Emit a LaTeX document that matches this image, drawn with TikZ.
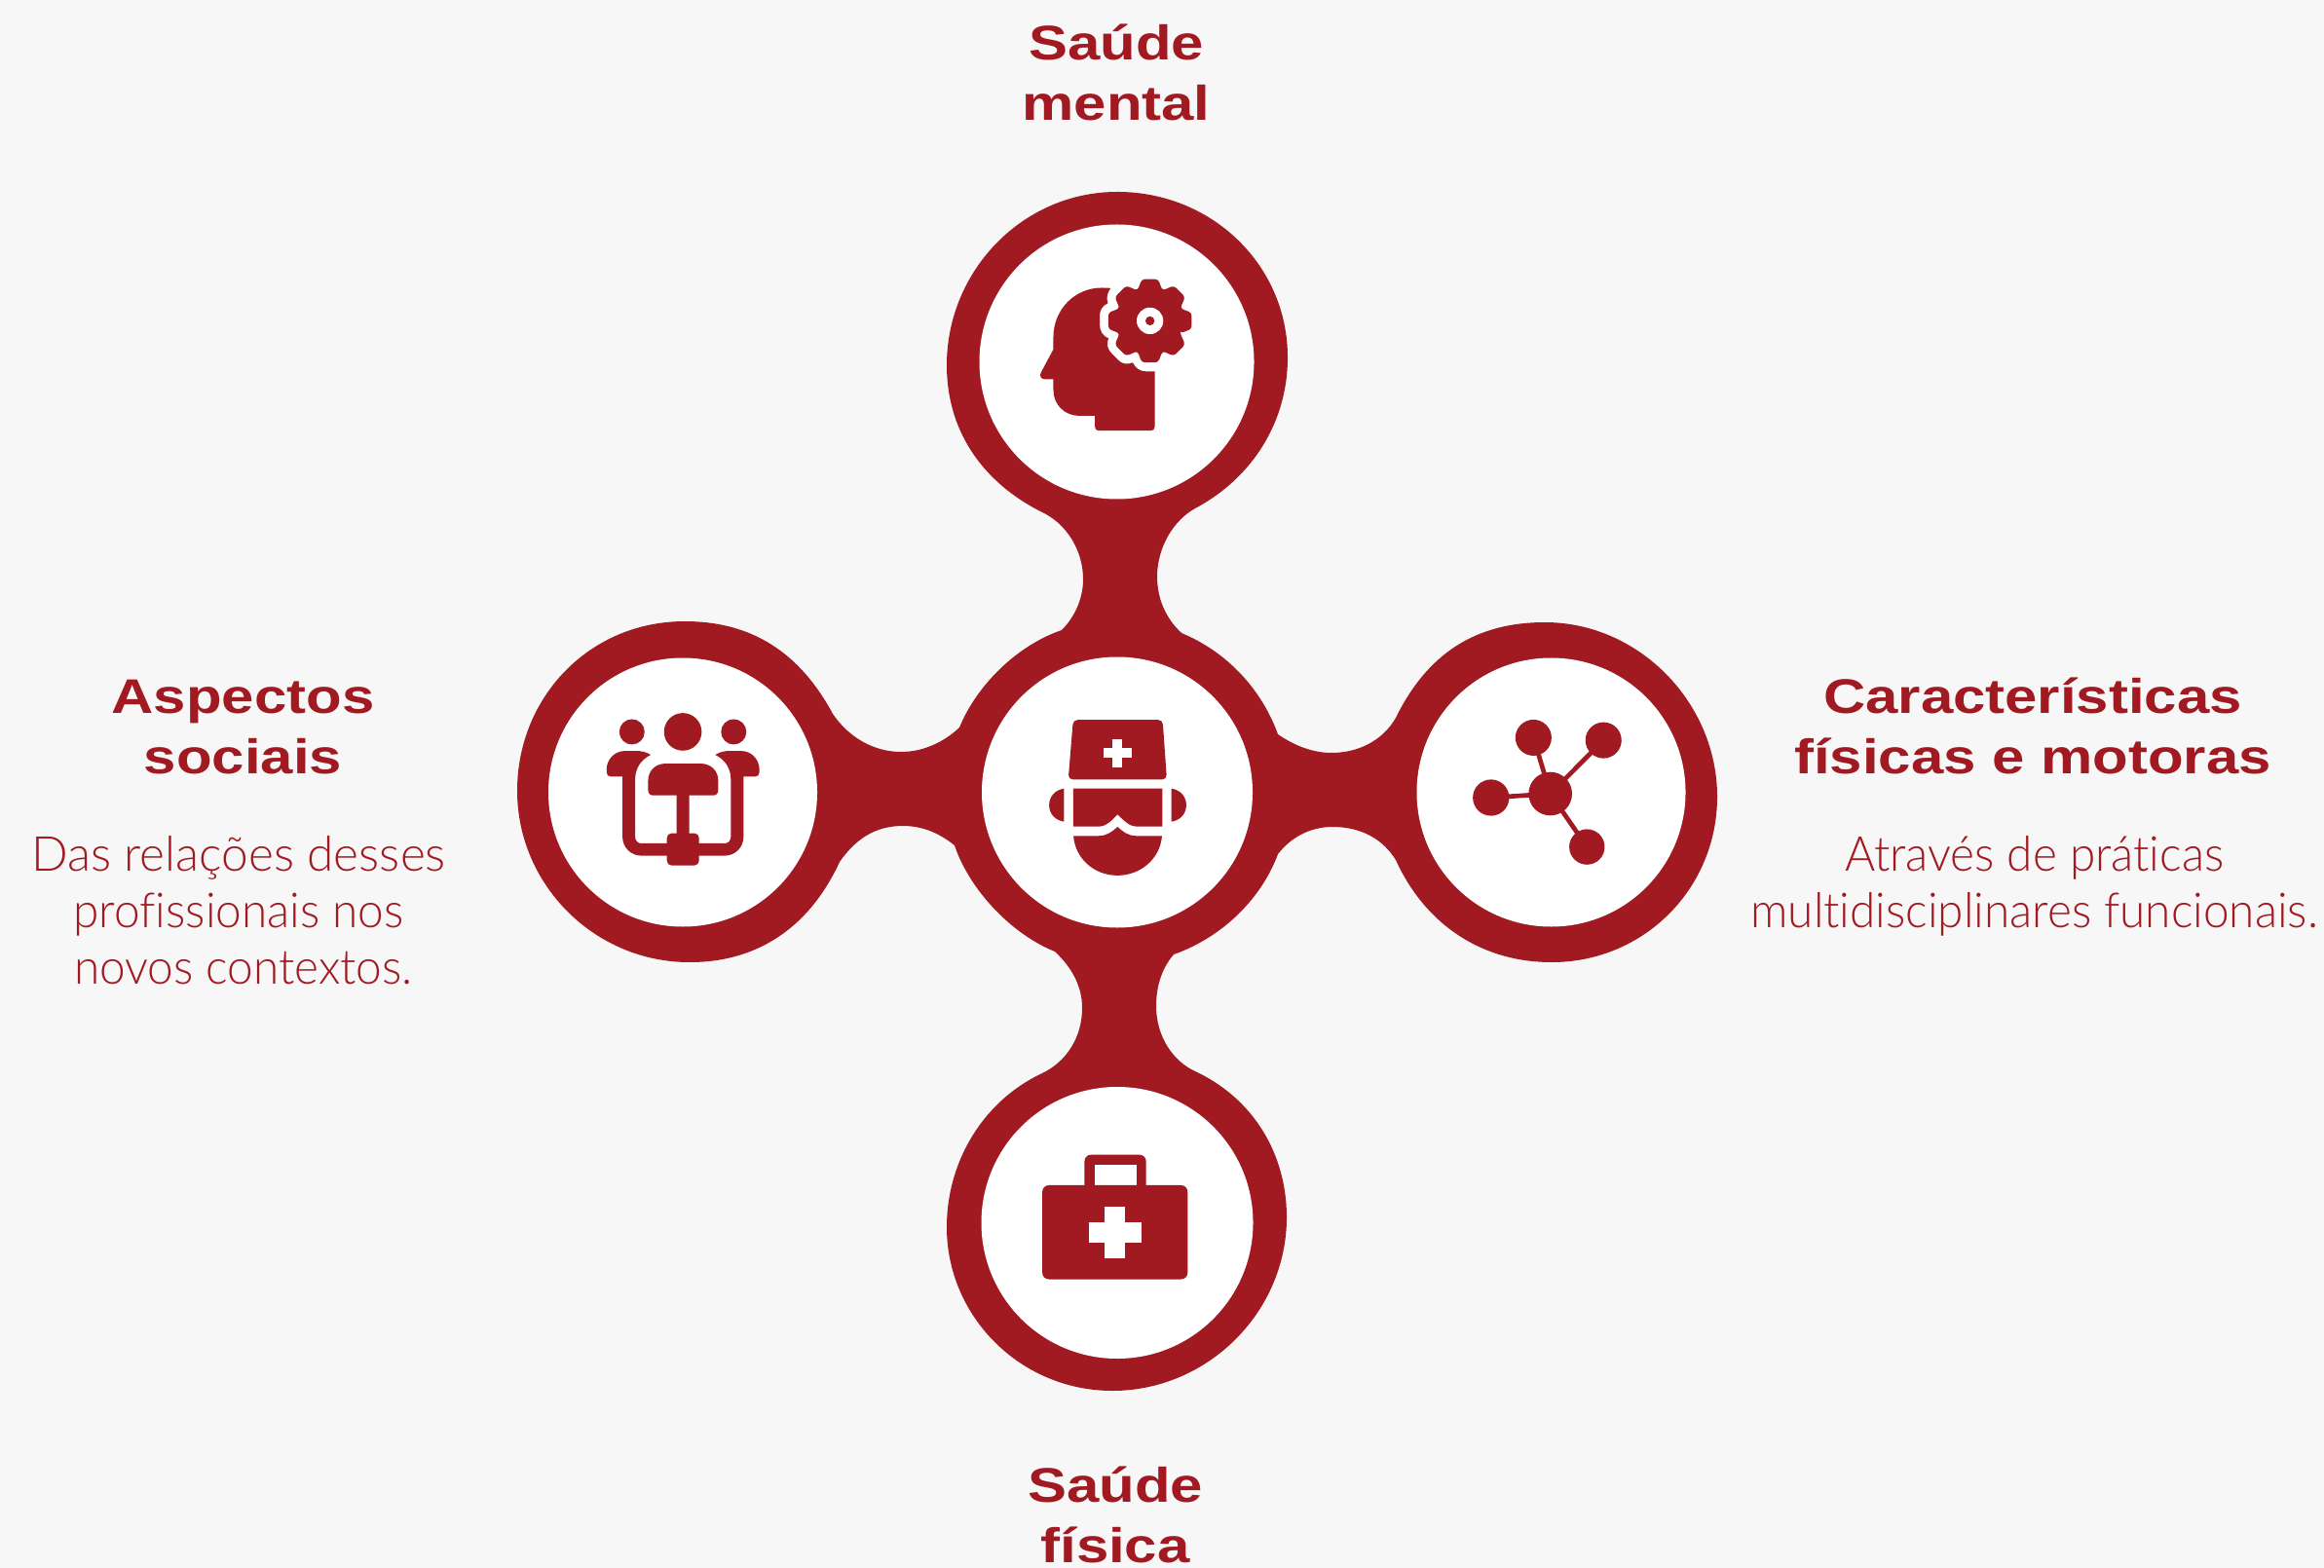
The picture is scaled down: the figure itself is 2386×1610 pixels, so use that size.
\documentclass[tikz,border=0pt]{standalone}
\usepackage{fontspec}
\setmainfont{Lato}[UprightFont=* Light,Ligatures=NoCommon]
\newfontfamily\bodynarrow{Lato}[UprightFont=* Light,Ligatures=NoCommon,FakeStretch=0.962]
\newfontfamily\headfont{Liberation Sans}[UprightFont=* Bold,BoldFont=* Bold,FakeStretch=1.2]
\definecolor{brandred}{HTML}{A11A22}
\definecolor{pagebg}{HTML}{F7F7F7}
\tikzset{
  headtext/.style={text=brandred,align=center,font=\headfont\fontsize{14.2pt}{17.6pt}\selectfont,inner sep=0pt,anchor=base},
  bodytext/.style={text=brandred,align=center,font=\fontsize{14.1pt}{16.4pt}\selectfont,inner sep=0pt,anchor=base},
  bodytextb/.style={text=brandred,align=center,font=\bodynarrow\fontsize{14.1pt}{16.4pt}\selectfont,inner sep=0pt,anchor=base},
  icondot/.style={circle,fill=brandred,inner sep=0pt,draw=none},
  iconlink/.style={draw=brandred,line width=1.33pt},
  zoomed/.style={x=0.003333cm,y=-0.003333cm},
}
\begin{document}
\begin{tikzpicture}[x=0.01cm,y=-0.01cm]
\useasboundingbox (0,0) rectangle (2386,1610);
\fill[pagebg] (0,0) rectangle (2386,1610);
% red blob
\fill[brandred] (1068,525)
  .. controls (1006,493) and (972,440) .. (972,375)
  .. controls (972,278) and (1050,197) .. (1147,197)
  .. controls (1244,197) and (1322,272) .. (1322,367)
  .. controls (1322,432) and (1287,490) .. (1227,522)
  .. controls (1205,534) and (1188,562) .. (1188,592)
  .. controls (1188,615) and (1197,635) .. (1213,650)
  .. controls (1259,669) and (1295,707) .. (1312,754)
  .. controls (1328,765) and (1347,773) .. (1367,773)
  .. controls (1395,773) and (1420,760) .. (1433,737)
  .. controls (1465,672) and (1514,639) .. (1586,639)
  .. controls (1683,639) and (1763,722) .. (1763,818)
  .. controls (1763,912) and (1688,988) .. (1593,988)
  .. controls (1521,988) and (1463,949) .. (1433,883)
  .. controls (1420,862) and (1398,849) .. (1368,849)
  .. controls (1345,849) and (1325,860) .. (1312,877)
  .. controls (1294,925) and (1253,963) .. (1205,980)
  .. controls (1193,994) and (1187,1012) .. (1187,1033)
  .. controls (1187,1065) and (1205,1090) .. (1227,1100)
  .. controls (1287,1128) and (1321,1185) .. (1321,1250)
  .. controls (1321,1347) and (1240,1428) .. (1142,1428)
  .. controls (1048,1428) and (972,1352) .. (972,1260)
  .. controls (972,1192) and (1010,1130) .. (1070,1102)
  .. controls (1095,1090) and (1111,1065) .. (1111,1035)
  .. controls (1111,1012) and (1100,993) .. (1083,977)
  .. controls (1038,959) and (995,913) .. (980,868)
  .. controls (965,856) and (948,848) .. (927,848)
  .. controls (898,848) and (878,862) .. (862,885)
  .. controls (832,950) and (780,988) .. (708,988)
  .. controls (610,988) and (531,908) .. (531,812)
  .. controls (531,716) and (605,638) .. (703,638)
  .. controls (772,638) and (821,670) .. (855,733)
  .. controls (872,758) and (898,772) .. (925,772)
  .. controls (948,772) and (969,762) .. (985,747)
  .. controls (1003,703) and (1044.5,662.6) .. (1090,647)
  .. controls (1103,634) and (1112,615) .. (1112,595)
  .. controls (1112,565) and (1095,537) .. (1068,525) -- cycle;
% white discs
\fill[white] (1146.5,371.5) circle (141);
\fill[white] (1147,813.5) circle (139);
\fill[white] (701,813.5) circle (138);
\fill[white] (1592.5,813.5) circle (138);
\fill[white] (1147,1255.5) circle (139.5);
% head icon
\begin{scope}[shift={(950,180)},zoomed]
\fill[brandred] (572,348) -- (545,347) .. controls (460,347) and (395,415) .. (395,500) -- (395,537) -- (357,608) .. controls (350,620) and (358,629) .. (368,629) -- (395,629) -- (395,662) .. controls (395,708) and (430,742) .. (475,742) -- (523,742) -- (523,775) .. controls (523,783) and (528,788) .. (535,788) -- (695,788) .. controls (703,788) and (708,783) .. (708,775) -- (708,605) -- (680,605) .. controls (662,605) and (648,595) .. (640,578) .. controls (622,585) and (606,582) .. (595,570) -- (575,550) .. controls (562,537) and (558,520) .. (565,503) .. controls (548,497) and (538,480) .. (538,462) -- (538,432) .. controls (538,415) and (548,401) .. (563,395) .. controls (557,378) and (562,360) .. (572,348) -- cycle;
\begin{scope}[shift={(693,449)}]
\fill[brandred,rounded corners=0.9pt] (22.5:101) foreach \a in {45,90,...,360} { -- (\a-11:131) -- (\a+11:131) -- (\a+22.5:101) } -- cycle;
\fill[white] (0,0) circle (41);
\fill[brandred] (0,0) circle (14);
\end{scope}
\end{scope}
% doctor icon
\begin{scope}[shift={(950,620)},zoomed]
\fill[brandred,rounded corners=1.3pt] (456,358) -- (732,358) -- (745,542) -- (441,542) -- cycle;
\fill[white] (578,417) rectangle (608,504);
\fill[white] (549,446) rectangle (637,475);
\fill[brandred] (428,570) -- (428,672) .. controls (400,668) and (382,647) .. (382,621) .. controls (382,595) and (400,574) .. (428,570) -- cycle;
\fill[brandred] (759,570) -- (759,672) .. controls (787,668) and (805,647) .. (805,621) .. controls (805,595) and (787,574) .. (759,570) -- cycle;
\fill[brandred] (456,570) -- (731,570) -- (731,687) -- (650,687) .. controls (630,687) and (612,668) .. (593,650) .. controls (575,668) and (558,687) .. (535,687) -- (456,687) -- cycle;
\fill[brandred] (457,716) -- (535,716) .. controls (560,716) and (578,702) .. (593,688) .. controls (608,702) and (625,716) .. (650,716) -- (730,716) .. controls (725,785) and (665,838) .. (593,838) .. controls (520,838) and (462,785) .. (457,716) -- cycle;
\end{scope}
% people icon
\begin{scope}[shift={(520,620)},zoomed]
\fill[brandred] (387,395) circle (39);
\fill[brandred] (544,395) circle (58);
\fill[brandred] (701,395) circle (39);
\fill[brandred] (437,575) -- (437,545) .. controls (437,515) and (460,493) .. (490,493) -- (600,493) .. controls (630,493) and (653,515) .. (653,545) -- (653,575) .. controls (653,585) and (647,591) .. (637,591) -- (564,591) -- (564,720) -- (525,720) -- (525,591) -- (453,591) .. controls (443,591) and (437,585) .. (437,575) -- cycle;
\fill[brandred,rounded corners=1.33pt] (495,708) rectangle (594,807);
\fill[brandred] (445,466) .. controls (430,456) and (415,454) .. (400,454) -- (365,454) .. controls (332,454) and (309,482) .. (309,510) -- (309,520) .. controls (309,528) and (314,533) .. (322,533) -- (358,533) -- (358,720) .. controls (358,752) and (385,777) .. (415,777) -- (500,777) -- (500,739) -- (415,739) .. controls (405,739) and (397,730) .. (397,720) -- (397,540) .. controls (397,508) and (415,480) .. (445,466) -- cycle;
\fill[brandred] (644,466) .. controls (659,456) and (674,454) .. (689,454) -- (724,454) .. controls (757,454) and (780,482) .. (780,510) -- (780,520) .. controls (780,528) and (775,533) .. (767,533) -- (731,533) -- (731,720) .. controls (731,752) and (704,777) .. (674,777) -- (589,777) -- (589,739) -- (674,739) .. controls (684,739) and (692,730) .. (692,720) -- (692,540) .. controls (692,508) and (674,480) .. (644,466) -- cycle;
\end{scope}
% network icon
\begin{scope}[shift={(1380,620)},zoomed]
\node[icondot,minimum size=12.7pt] (hub) at (636,586) {};
\node[icondot,minimum size=10.53pt] (n1) at (584,413) {};
\node[icondot,minimum size=10.53pt] (n2) at (800,421) {};
\node[icondot,minimum size=10.6pt] (n3) at (453,598) {};
\node[icondot,minimum size=10.34pt] (n4) at (749,750) {};
\draw[iconlink] (hub.center) -- (n1.center);
\draw[iconlink] (hub.center) -- (n2.center);
\draw[iconlink] (hub.center) -- (n3.center);
\draw[iconlink] (hub.center) -- (n4.center);
\end{scope}
% briefcase icon
\begin{scope}[shift={(950,1000)},zoomed]
\fill[brandred,rounded corners=1.9pt] (491,670) -- (491,558) -- (681,558) -- (681,670) -- cycle;
\fill[white] (522,589) rectangle (651,670);
\fill[brandred,rounded corners=1.9pt] (361,652) rectangle (809,942);
\fill[white] (553,717) rectangle (617,878);
\fill[white] (505,766) rectangle (666,829);
\end{scope}
% text
\node[headtext] (t1) at (1146,123.5) {Saúde\\mental};
\node[headtext] (t2) at (249.6,794) {Aspectos\\sociais};
\node[headtext] (t3) at (2087,794) {Características\\físicas e motoras};
\node[headtext] (t4) at (1145,1604.5) {Saúde\\física};
\node[bodytext] (b1) at (245,1010) {Das relações desses\\{\bodynarrow profissionais nos}\\\hspace*{2.8pt}{\bodynarrow novos contextos.}};
\node[bodytextb] (b2) at (2088.6,952) {Através de práticas\\multidisciplinares funcionais.};
\end{tikzpicture}
\end{document}
